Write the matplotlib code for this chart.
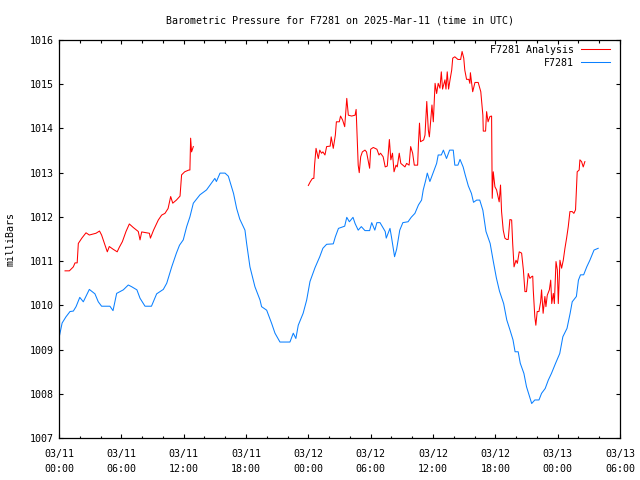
import numpy as np
import pandas as pd
import matplotlib
matplotlib.use("Agg")
import matplotlib.pyplot as plt
import matplotlib.dates as mdates

# =========================
# DATA (hours after 2025-03-11 00:00 UTC, pressure in mbar)
# =========================
obs_hours = [0.0, 0.3, 0.67, 1.06, 1.38, 1.64, 2.0, 2.34, 2.92, 3.46, 3.78, 4.1, 4.9, 5.2, 5.55,
             6.19, 6.67, 7.0, 7.5, 7.8, 8.28, 8.9, 9.4, 10.04, 10.37, 10.85, 11.3, 11.6, 11.96,
             12.29, 12.6, 12.93, 13.57, 14.2, 15.0, 15.15, 15.5, 15.98, 16.3, 16.8, 17.1, 17.4,
             17.9, 18.06, 18.38, 18.86, 19.35, 19.5, 19.99, 20.47, 20.79, 21.27, 22.23, 22.55,
             22.8, 23.03, 23.5, 23.84, 24.16, 24.64, 25.1, 25.4, 25.76, 26.4, 26.6, 26.9, 27.5,
             27.7, 27.95, 28.3, 28.5, 28.8, 29.1, 29.45, 29.9, 30.1, 30.4, 30.6, 30.9, 31.4, 31.5,
             31.86, 32.0, 32.3, 32.5, 32.8, 33.1, 33.6, 33.9, 34.26, 34.6, 34.9, 35.06, 35.3,
             35.45, 35.7, 36.0, 36.35, 36.5, 36.8, 37.0, 37.3, 37.6, 37.95, 38.1, 38.4, 38.6,
             38.9, 39.1, 39.4, 39.7, 39.9, 40.2, 40.5, 40.8, 41.1, 41.5, 41.8, 42.1, 42.4, 42.8,
             43.1, 43.4, 43.7, 43.9, 44.2, 44.4, 44.75, 45.0, 45.3, 45.5, 45.8, 46.2, 46.45,
             46.8, 47.1, 47.4, 47.8, 48.2, 48.5, 48.9, 49.2, 49.4, 49.8, 50.0, 50.2, 50.5, 50.8,
             51.1, 51.5, 51.9]
obs_mbar = [1009.26, 1009.6, 1009.74, 1009.86, 1009.87, 1009.97, 1010.18, 1010.08, 1010.36,
            1010.26, 1010.08, 1009.98, 1009.98, 1009.88, 1010.27, 1010.35, 1010.46, 1010.42,
            1010.35, 1010.16, 1009.98, 1009.98, 1010.26, 1010.36, 1010.50, 1010.87, 1011.18,
            1011.36, 1011.48, 1011.78, 1012.0, 1012.31, 1012.50, 1012.61, 1012.87, 1012.80,
            1012.99, 1012.99, 1012.92, 1012.53, 1012.19, 1011.95, 1011.70, 1011.40, 1010.87,
            1010.42, 1010.12, 1009.97, 1009.89, 1009.59, 1009.37, 1009.17, 1009.17, 1009.37,
            1009.25, 1009.55, 1009.82, 1010.12, 1010.54, 1010.85, 1011.10, 1011.29, 1011.38,
            1011.39, 1011.55, 1011.74, 1011.79, 1011.99, 1011.89, 1011.99, 1011.85, 1011.70,
            1011.78, 1011.69, 1011.69, 1011.87, 1011.70, 1011.87, 1011.87, 1011.67, 1011.52,
            1011.74, 1011.55, 1011.10, 1011.27, 1011.70, 1011.87, 1011.89, 1011.99, 1012.08,
            1012.27, 1012.38, 1012.61, 1012.83, 1012.99, 1012.80, 1012.99, 1013.21, 1013.40,
            1013.40, 1013.51, 1013.32, 1013.51, 1013.51, 1013.17, 1013.17, 1013.30, 1013.13,
            1012.95, 1012.70, 1012.53, 1012.33, 1012.38, 1012.38, 1012.15, 1011.67, 1011.40,
            1011.0, 1010.62, 1010.32, 1010.04, 1009.67, 1009.45, 1009.22, 1008.95, 1008.95,
            1008.69, 1008.46, 1008.16, 1007.93, 1007.78, 1007.86, 1007.86, 1008.01, 1008.12,
            1008.31, 1008.46, 1008.69, 1008.91, 1009.29, 1009.48, 1009.82, 1010.08, 1010.20,
            1010.57, 1010.69, 1010.69, 1010.87, 1011.02, 1011.25, 1011.29]

# analysis, first stretch
ana1_hours = [0.58, 1.0, 1.38, 1.54, 1.75, 1.86, 2.2, 2.6, 2.92, 3.24, 3.56, 3.9, 4.1, 4.43,
              4.65, 4.84, 5.2, 5.6, 5.8, 6.1, 6.45, 6.77, 7.15, 7.63, 7.8, 7.96, 8.44, 8.7,
              8.8, 9.1, 9.56, 9.88, 10.2, 10.5, 10.75, 10.95, 11.3, 11.65, 11.8, 12.1, 12.5,
              12.6, 12.67, 12.76, 12.93]
ana1_mbar = [1010.78, 1010.78, 1010.87, 1010.96, 1010.96, 1011.40, 1011.52, 1011.64, 1011.59,
             1011.61, 1011.63, 1011.68, 1011.59, 1011.36, 1011.21, 1011.33, 1011.27, 1011.21,
             1011.31, 1011.44, 1011.67, 1011.84, 1011.76, 1011.67, 1011.48, 1011.66, 1011.64,
             1011.63, 1011.52, 1011.70, 1011.93, 1012.04, 1012.08, 1012.19, 1012.46, 1012.31,
             1012.38, 1012.47, 1012.95, 1013.02, 1013.06, 1013.06, 1013.78, 1013.47, 1013.59]

# analysis, second stretch
ana2_hours = [24.0, 24.2, 24.4, 24.53, 24.6, 24.74, 24.96, 25.1, 25.27, 25.4, 25.6, 25.76, 26.1,
              26.2, 26.4, 26.6, 26.7, 26.98, 27.1, 27.3, 27.5, 27.7, 27.85, 28.17, 28.5, 28.6,
              28.7, 28.8, 28.9, 29.04, 29.2, 29.45, 29.6, 29.9, 30.0, 30.25, 30.6, 30.8, 30.95,
              31.2, 31.4, 31.6, 31.8, 31.94, 32.1, 32.25, 32.44, 32.56, 32.75, 32.9, 33.1, 33.3,
              33.46, 33.7, 33.85, 34.04, 34.2, 34.52, 34.6, 34.7, 34.8, 35.1, 35.23, 35.4, 35.55,
              35.65, 35.9, 36.03, 36.2, 36.35, 36.5, 36.67, 36.8, 36.92, 37.15, 37.25, 37.37,
              37.5, 37.64, 37.8, 37.9, 38.1, 38.4, 38.66, 38.8, 38.96, 39.06, 39.23, 39.45,
              39.55, 39.6, 39.82, 40.04, 40.35, 40.6, 40.8, 40.84, 41.06, 41.16, 41.3, 41.48,
              41.64, 41.7, 41.8, 41.96, 42.12, 42.37, 42.5, 42.6, 42.76, 42.92, 43.09, 43.24,
              43.4, 43.57, 43.67, 43.8, 43.99, 44.12, 44.3, 44.53, 44.7, 44.85, 45.0, 45.17,
              45.33, 45.5, 45.6, 45.65, 45.8, 45.9, 46.03, 46.2, 46.36, 46.45, 46.6, 46.77,
              46.87, 47.0, 47.2, 47.33, 47.43, 47.58, 47.68, 47.84, 47.97, 48.06, 48.22, 48.38,
              48.54, 48.7, 48.86, 49.02, 49.18, 49.4, 49.56, 49.72, 49.82, 49.88, 50.07, 50.14,
              50.3, 50.46, 50.62]
ana2_mbar = [1012.71, 1012.80, 1012.87, 1012.87, 1013.17, 1013.55, 1013.32, 1013.51, 1013.44,
             1013.47, 1013.40, 1013.59, 1013.60, 1013.81, 1013.55, 1013.85, 1014.15, 1014.15,
             1014.28, 1014.19, 1014.04, 1014.68, 1014.30, 1014.28, 1014.30, 1014.43, 1013.81,
             1013.17, 1013.00, 1013.36, 1013.47, 1013.51, 1013.47, 1013.10, 1013.53, 1013.57,
             1013.53, 1013.40, 1013.44, 1013.36, 1013.13, 1013.15, 1013.75, 1013.29, 1013.44,
             1013.02, 1013.17, 1013.13, 1013.44, 1013.21, 1013.17, 1013.13, 1013.21, 1013.17,
             1013.59, 1013.44, 1013.17, 1013.17, 1013.66, 1014.12, 1013.70, 1013.74, 1013.85,
             1014.61, 1013.96, 1013.81, 1014.53, 1014.15, 1015.02, 1014.79, 1015.02, 1014.91,
             1015.28, 1014.89, 1015.10, 1014.89, 1015.28, 1014.89, 1015.10, 1015.32, 1015.59,
             1015.62, 1015.56, 1015.56, 1015.74, 1015.59, 1015.32, 1015.11, 1015.11, 1015.02,
             1015.26, 1014.83, 1015.04, 1015.04, 1014.83, 1014.30, 1013.94, 1013.94, 1014.38,
             1014.15, 1014.27, 1014.28, 1012.42, 1013.02, 1012.68, 1012.61, 1012.34, 1012.72,
             1012.12, 1011.70, 1011.52, 1011.49, 1011.49, 1011.94, 1011.93, 1011.40, 1010.87,
             1011.02, 1010.95, 1011.21, 1011.18, 1010.80, 1010.31, 1010.31, 1010.72, 1010.61,
             1010.65, 1010.66, 1010.35, 1009.74, 1009.55, 1009.86, 1009.86, 1010.08, 1010.35,
             1009.82, 1010.20, 1009.97, 1010.23, 1010.35, 1010.57, 1010.04, 1010.27, 1010.04,
             1010.99, 1010.80, 1010.04, 1011.02, 1010.84, 1011.02, 1011.29, 1011.52, 1011.78,
             1012.12, 1012.12, 1012.08, 1012.16, 1012.68, 1013.02, 1013.06, 1013.29, 1013.25,
             1013.13, 1013.25]

title = "Barometric Pressure for F7281 on 2025-Mar-11 (time in UTC)"
labels = ["F7281 Analysis", "F7281"]

# =========================
# PLOT
# =========================
base = pd.Timestamp("2025-03-11 00:00")
def to_time(h):
    return (base + pd.to_timedelta(np.asarray(h, dtype=float), unit="h")).to_pydatetime()

FS = 7.2
plt.rcParams["font.family"] = "DejaVu Sans Mono"
plt.rcParams["font.size"] = FS

fig = plt.figure(figsize=(6.4, 4.8), dpi=100)
ax = fig.add_axes([59/640, 1 - 438/480, (620-59)/640, (438-40)/480])

# two analysis stretches drawn separately, same style
ax.plot(to_time(ana1_hours), ana1_mbar, color="#ff0000", lw=0.75, label=labels[0])
ax.plot(to_time(ana2_hours), ana2_mbar, color="#ff0000", lw=0.75)
ax.plot(to_time(obs_hours), obs_mbar, color="#0a80ff", lw=0.75, label=labels[1])

ax.set_xlim(base.to_pydatetime(), (base + pd.Timedelta(hours=54)).to_pydatetime())
ax.set_ylim(1007, 1016)
ax.set_yticks(range(1007, 1017))

ax.xaxis.set_major_locator(mdates.HourLocator(byhour=[0, 6, 12, 18]))
ax.xaxis.set_minor_locator(mdates.HourLocator(interval=2))
ax.xaxis.set_major_formatter(mdates.DateFormatter("%m/%d\n%H:%M"))

ax.tick_params(which="both", direction="in", top=True, right=True, color="black")
ax.tick_params(which="major", length=3.2, width=0.8)
ax.tick_params(which="minor", length=1.8, width=0.8)
ax.tick_params(axis="x", pad=8)
ax.tick_params(axis="y", pad=4)
for s in ax.spines.values():
    s.set_linewidth(0.9)
    s.set_color("black")

fig.canvas.draw()
for lbl in ax.get_xticklabels():
    lbl.set_linespacing(1.55)

ax.set_title(title, pad=12, fontsize=FS)
ax.set_ylabel("milliBars", labelpad=10)

ax.legend(loc="upper right", bbox_to_anchor=(1 - 6/561, 1 - 1/398), borderaxespad=0,
          borderpad=0.4, frameon=False, markerfirst=False, handlelength=2.9,
          handletextpad=0.7, labelspacing=0.3)

fig.savefig("out.png", dpi=100)
